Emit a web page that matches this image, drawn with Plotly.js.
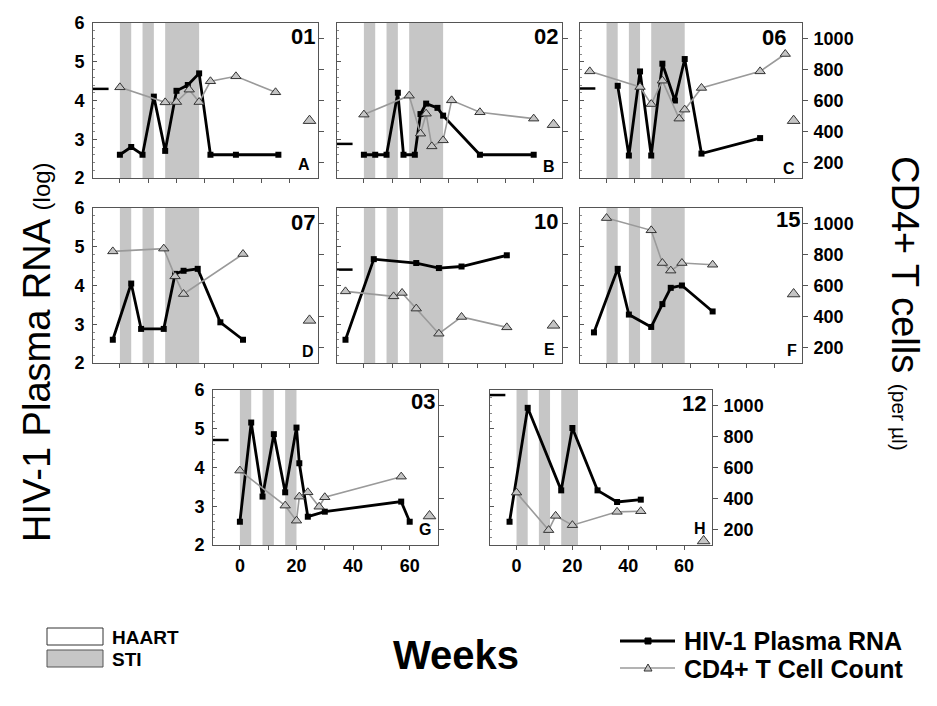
<!DOCTYPE html>
<html><head><meta charset="utf-8">
<script src="https://cdn.plot.ly/plotly-3.0.1.min.js"></script>
<style>html,body{margin:0;padding:0;background:#fff}#chart{width:937px;height:706px}</style>
</head><body><div id="chart"></div>
<script>
// ---------- DATA ----------
const patientIds   = ['01','02','06','07','10','15','03','12'];
const panelLetters = ['A','B','C','D','E','F','G','H'];

const rnaWeeks01 = [0,4,8,12,16,20,24,28,32,41,56];
const rnaLog01   = [2.6,2.8,2.6,4.1,2.7,4.25,4.4,4.7,2.6,2.6,2.6];
const cd4Weeks01 = [0,16,20,24.5,28,32,41,55];
const cd4Count01 = [685,588,590,670,590,724,756,653];

const rnaWeeks02 = [0,4,8,12,14,18,20,22,26,28,41,60];
const rnaLog02   = [2.6,2.6,2.6,4.2,2.6,2.6,3.65,3.92,3.81,3.61,2.6,2.6];
const cd4Weeks02 = [0,16,20,22,24,28,31,41,60];
const cd4Count02 = [509,631,386,515,304,343,601,524,483];

const rnaWeeks06 = [4,8,12,16,20,24.5,28,34,55];
const rnaLog06   = [4.38,2.58,4.75,2.58,4.95,4.0,5.07,2.63,3.03];
const cd4Weeks06 = [-6,12,16,20,26,28,34,55,64];
const cd4Count06 = [788,687,577,728,483,541,681,788,900];

const rnaWeeks07 = [-2.5,4,7.5,15.5,19.5,22.5,27.5,35.5,43.5];
const rnaLog07   = [2.6,4.05,2.88,2.88,4.3,4.38,4.43,3.05,2.6];
const cd4Weeks07 = [-2.5,15.5,19.5,22.5,43.5];
const cd4Count07 = [820,838,659,545,803];

const rnaWeeks10 = [-6.5,3.5,18.5,26.5,34.5,50.5];
const rnaLog10   = [2.6,4.68,4.58,4.45,4.49,4.78];
const cd4Weeks10 = [-6.5,10.5,13.5,18.5,26.5,34.5,50.5];
const cd4Count10 = [562,530,552,451,289,397,330];

const rnaWeeks15 = [-4.5,4,8,16,20,23,27,38];
const rnaLog15   = [2.79,4.43,3.25,2.93,3.52,3.94,4.0,3.33];
const cd4Weeks15 = [0,16,20,23,27,38];
const cd4Count15 = [1035,956,745,696,745,734];

const rnaWeeks03 = [0,4,8,12,16,20,21,24,30,57,60];
const rnaLog03   = [2.6,5.16,3.25,4.86,3.36,5.03,4.11,2.73,2.86,3.12,2.6];
const cd4Weeks03 = [0,16,20,21,24,28,30,57];
const cd4Count03 = [580,354,257,412,440,347,408,541];

const rnaWeeks12 = [-2.5,4,16,20,29,36,44.5];
const rnaLog12   = [2.6,5.54,3.41,5.02,3.41,3.11,3.17];
const cd4Weeks12 = [0,11.5,14,20,36,44.5];
const cd4Count12 = [438,196,288,228,314,318];

// pre-study baseline values (dash at left: log RNA; lone triangle at right: CD4)
const baselineRNA  = [4.3, 2.88, 4.31, null, 4.41, null, 4.71, 5.87];
const baselineCD4  = [470, 444, 470, 375, 343, 545, 287, 126];
const baselineDashWeeks = [-9.5, -4];
const baselineCD4Week = 67;

// STI (treatment interruption) intervals, weeks
const stiStart01 = [0,8,16], stiEnd01 = [4,12,28];
const stiStart02 = [0,8,16], stiEnd02 = [4,12,28];
const stiStart06 = [0,8,16], stiEnd06 = [4,12,28];
const stiStart07 = [0,8,16], stiEnd07 = [4,12,28];
const stiStart10 = [0,8,16], stiEnd10 = [4,12,28];
const stiStart15 = [0,8,16], stiEnd15 = [4,12,28];
const stiStart03 = [0,8,16], stiEnd03 = [4,12,20];
const stiStart12 = [0,8,16], stiEnd12 = [4,12,22];

// ticks
const rnaTicks  = [2,3,4,5,6];
const cd4Ticks  = [200,400,600,800,1000];
const weekTicks = [0,10,20,30,40,50,60];
const weekLabels= ['0','','20','','40','','60'];

const rnaWeeks = [rnaWeeks01,rnaWeeks02,rnaWeeks06,rnaWeeks07,rnaWeeks10,rnaWeeks15,rnaWeeks03,rnaWeeks12];
const rnaLog   = [rnaLog01,rnaLog02,rnaLog06,rnaLog07,rnaLog10,rnaLog15,rnaLog03,rnaLog12];
const cd4Weeks = [cd4Weeks01,cd4Weeks02,cd4Weeks06,cd4Weeks07,cd4Weeks10,cd4Weeks15,cd4Weeks03,cd4Weeks12];
const cd4Count = [cd4Count01,cd4Count02,cd4Count06,cd4Count07,cd4Count10,cd4Count15,cd4Count03,cd4Count12];
const stiStart = [stiStart01,stiStart02,stiStart06,stiStart07,stiStart10,stiStart15,stiStart03,stiStart12];
const stiEnd   = [stiEnd01,stiEnd02,stiEnd06,stiEnd07,stiEnd10,stiEnd15,stiEnd03,stiEnd12];

// ---------- LAYOUT ----------
const W = 937, H = 706;
const FONT = 'Liberation Sans, Arial, Helvetica, sans-serif';
const geom = [[93,318,23,178],[337,562,23,178],[580,802,23,178],
              [93,318,208,363],[337,562,208,363],[580,802,208,363],
              [213,438,390,545],[490,712,390,545]];
const leftCol   = [true,false,false,true,false,false,true,false];
const rightCol  = [false,false,true,false,false,true,false,true];
const bottomRow = [false,false,false,false,false,false,true,true];
const idRight = [317,560,788,317,560,802,437,708];
const idCy    = [36,36,38,222,221,220,402,403];
const letPos  = [[304,164],[549,166],[789,168],[308,351],[549,349],[792,350],[425,529],[700,528]];

const px = v => v / W, py = v => 1 - v / H;
const bold = a => a.map(v => v === '' ? '' : '<b>' + v + '</b>');
const tickFont = {family: FONT, size: 18, color: '#000'};
const AX = '#555';

const traces = [], shapes = [], annotations = [];
const layout = {
  width: W, height: H, autosize: false,
  margin: {l:0, r:0, t:0, b:0},
  paper_bgcolor: '#fff', plot_bgcolor: 'rgba(0,0,0,0)',
  showlegend: false, font: {family: FONT, color: '#000'}
};

for (let k = 0; k < 8; k++) {
  const g = geom[k];
  const xn = k ? 'x' + (k + 1) : 'x';
  const xkey = k ? 'xaxis' + (k + 1) : 'xaxis';
  const yl = 2 * k + 1, yr = 2 * k + 2;
  const yln = yl === 1 ? 'y' : 'y' + yl;
  const ylkey = yl === 1 ? 'yaxis' : 'yaxis' + yl;
  const yrn = 'y' + yr, yrkey = 'yaxis' + yr;

  layout[xkey] = {
    domain: [px(g[0]), px(g[1])], anchor: yln, range: [-9.5, 70],
    showline: true, mirror: true, linecolor: AX, linewidth: 1,
    ticks: 'outside', ticklen: 4, tickcolor: AX,
    tickmode: 'array', tickvals: weekTicks, ticktext: bold(weekLabels),
    showticklabels: bottomRow[k], tickfont: tickFont,
    showgrid: false, zeroline: false, fixedrange: true
  };
  layout[ylkey] = {
    domain: [py(g[3]), py(g[2])], anchor: xn, range: [2, 6],
    showline: true, linecolor: AX, linewidth: 1,
    ticks: 'inside', ticklen: 4, tickcolor: AX,
    tickmode: 'array', tickvals: rnaTicks, ticktext: bold(rnaTicks.map(String)),
    minor: {ticks: 'inside', ticklen: 2, dtick: 0.2, tickcolor: '#888', showgrid: false},
    showticklabels: leftCol[k], tickfont: tickFont, ticklabelstandoff: 4,
    showgrid: false, zeroline: false, fixedrange: true
  };
  layout[yrkey] = {
    overlaying: yln, side: 'right', anchor: xn, range: [100, 1100],
    showline: true, linecolor: AX, linewidth: 1,
    ticks: 'outside', ticklen: 5, tickcolor: AX,
    tickmode: 'array', tickvals: cd4Ticks, ticktext: bold(cd4Ticks.map(String)),
    showticklabels: rightCol[k], tickfont: tickFont, ticklabelstandoff: 2,
    showgrid: false, zeroline: false, fixedrange: true
  };

  for (let i = 0; i < stiStart[k].length; i++) {
    shapes.push({type: 'rect', xref: xn, yref: yln + ' domain',
      x0: stiStart[k][i], x1: stiEnd[k][i], y0: 0, y1: 1,
      fillcolor: '#c6c6c6', line: {width: 0}, layer: 'below'});
  }

  if (baselineRNA[k] !== null) {
    traces.push({x: baselineDashWeeks, y: [baselineRNA[k], baselineRNA[k]],
      xaxis: xn, yaxis: yln, mode: 'lines', line: {color: '#000', width: 2.5},
      cliponaxis: false, hoverinfo: 'skip'});
  }
  traces.push({x: rnaWeeks[k], y: rnaLog[k], xaxis: xn, yaxis: yln,
    mode: 'lines+markers', line: {color: '#000', width: 2.8},
    marker: {symbol: 'square', size: 6, color: '#000'}, cliponaxis: false,
    name: 'HIV-1 Plasma RNA'});
  traces.push({x: cd4Weeks[k], y: cd4Count[k], xaxis: xn, yaxis: yrn,
    mode: 'lines+markers', line: {color: '#9a9a9a', width: 1.6},
    marker: {symbol: 'triangle-up', size: 9, color: '#c4c4c4', line: {color: '#333', width: 1}},
    cliponaxis: false, name: 'CD4+ T Cell Count'});
  traces.push({x: [baselineCD4Week], y: [baselineCD4[k]], xaxis: xn, yaxis: yrn,
    mode: 'markers',
    marker: {symbol: 'triangle-up', size: 11, color: '#c4c4c4', line: {color: '#333', width: 1}},
    cliponaxis: false, hoverinfo: 'skip'});

  annotations.push({xref: 'paper', yref: 'paper', x: px(idRight[k]), y: py(idCy[k]),
    xanchor: 'right', yanchor: 'middle', showarrow: false, text: '<b>' + patientIds[k] + '</b>',
    font: {family: FONT, size: 22, color: '#000'}});
  annotations.push({xref: 'paper', yref: 'paper', x: px(letPos[k][0]), y: py(letPos[k][1]),
    xanchor: 'center', yanchor: 'middle', showarrow: false, text: '<b>' + panelLetters[k] + '</b>',
    font: {family: FONT, size: 16, color: '#000'}});
}

// axis titles
annotations.push({xref: 'paper', yref: 'paper', x: px(37), y: py(352), xanchor: 'center', yanchor: 'middle',
  showarrow: false, textangle: -90,
  text: 'HIV-1 Plasma RNA <span style="font-size:24px">(log)</span>',
  font: {family: FONT, size: 38, color: '#000'}});
annotations.push({xref: 'paper', yref: 'paper', x: px(905), y: py(303), xanchor: 'center', yanchor: 'middle',
  showarrow: false, textangle: 90,
  text: 'CD4+ T cells <span style="font-size:21px">(per µl)</span>',
  font: {family: FONT, size: 38, color: '#000'}});
annotations.push({xref: 'paper', yref: 'paper', x: px(456), y: py(655), xanchor: 'center', yanchor: 'middle',
  showarrow: false, text: '<b>Weeks</b>', font: {family: FONT, size: 40, color: '#000'}});

// legend (drawn)
const rectPx = (x0, y0, x1, y1, fill, lc) => ({type: 'rect', xref: 'paper', yref: 'paper',
  x0: px(x0), x1: px(x1), y0: py(y1), y1: py(y0), fillcolor: fill, line: {color: lc, width: 1}});
shapes.push(rectPx(47, 628, 103, 645, '#fff', '#333'));
shapes.push(rectPx(47, 650, 103, 667, '#c6c6c6', '#555'));
shapes.push({type: 'line', xref: 'paper', yref: 'paper', x0: px(620), x1: px(675), y0: py(641), y1: py(641),
  line: {color: '#000', width: 2.8}});
shapes.push(rectPx(645, 638, 651, 644, '#000', '#000'));
shapes.push({type: 'line', xref: 'paper', yref: 'paper', x0: px(620), x1: px(675), y0: py(668), y1: py(668),
  line: {color: '#9a9a9a', width: 1.6}});
shapes.push({type: 'path', xref: 'paper', yref: 'paper',
  path: `M ${px(644)} ${py(671)} L ${px(652)} ${py(671)} L ${px(648)} ${py(664)} Z`,
  fillcolor: '#c4c4c4', line: {color: '#333', width: 1}});
const legFont = {family: FONT, size: 25, color: '#000'};
annotations.push({xref: 'paper', yref: 'paper', x: px(110), y: py(637), xanchor: 'left', yanchor: 'middle',
  showarrow: false, text: '<b>HAART</b>', font: {family: FONT, size: 19, color: '#000'}});
annotations.push({xref: 'paper', yref: 'paper', x: px(110), y: py(659), xanchor: 'left', yanchor: 'middle',
  showarrow: false, text: '<b>STI</b>', font: {family: FONT, size: 19, color: '#000'}});
annotations.push({xref: 'paper', yref: 'paper', x: px(682), y: py(641), xanchor: 'left', yanchor: 'middle',
  showarrow: false, text: '<b>HIV-1 Plasma RNA</b>', font: legFont});
annotations.push({xref: 'paper', yref: 'paper', x: px(682), y: py(669), xanchor: 'left', yanchor: 'middle',
  showarrow: false, text: '<b>CD4+ T Cell Count</b>', font: legFont});

layout.shapes = shapes;
layout.annotations = annotations;

Plotly.newPlot('chart', traces, layout, {staticPlot: true, displayModeBar: false});
</script></body></html>
